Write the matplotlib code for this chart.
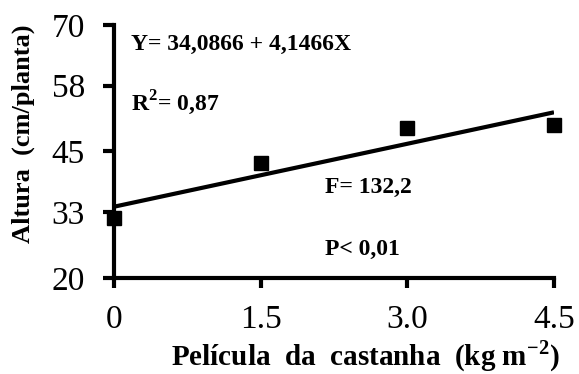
import matplotlib
matplotlib.use("Agg")
import matplotlib.pyplot as plt
import numpy as np

plt.rcParams['font.family'] = ['Liberation Serif', 'DejaVu Serif']
plt.rcParams['mathtext.fontset'] = 'custom'
plt.rcParams['mathtext.rm'] = 'Liberation Serif'
plt.rcParams['mathtext.bf'] = 'Liberation Serif:bold'

# doses of chestnut skin and measured plant height
doses = [0, 1.5, 3.0, 4.5]
altura = [31.9, 42.7, 49.6, 50.2]
intercept = 34.0866
slope = 4.1466
xticks = [0, 1.5, 3.0, 4.5]
xticklabels = ['0', '1.5', '3.0', '4.5']
yticks = [20, 33, 45, 58, 70]

fig = plt.figure(figsize=(5.79, 3.74), dpi=100)
ax = fig.add_axes([114 / 579, 96 / 374, 440 / 579, 253 / 374])

xfit = np.array([doses[0], doses[-1]])
ax.plot(xfit, intercept + slope * xfit, color='black', lw=3, solid_capstyle='butt', zorder=2)
ax.plot(doses, altura, 's', color='black', ms=10, clip_on=False, zorder=3)

ax.set_xlim(0, 4.5)
ax.set_ylim(20, 70)
ax.set_xticks(xticks)
ax.set_xticklabels(xticklabels)
ax.set_yticks(yticks)

for side in ['top', 'right']:
    ax.spines[side].set_visible(False)
for side in ['left', 'bottom']:
    ax.spines[side].set_linewidth(3)
    ax.spines[side].set_capstyle('projecting')

ax.tick_params(axis='y', direction='out', length=8, width=3, labelsize=24, pad=13)
ax.tick_params(axis='x', direction='out', length=7, width=3, labelsize=24, pad=12)

fig.text(23 / 579, 1 - 134 / 374, 'Altura  (cm/planta)', rotation=90,
         ha='center', va='center', fontsize=19, fontweight='bold')
fig.text(365 / 579, 1 - 356 / 374, r'Película  da  castanha  (kg m$^{\mathbf{-2}}$)',
         ha='center', va='center', fontsize=21, fontweight='bold')

ax.text(0.17, 66.2, 'Y= 34,0866 + 4,1466X', ha='left', va='center',
        fontsize=17, fontweight='bold')
ax.text(0.17, 54.6, r'R$^{\mathbf{2}}$= 0,87', ha='left', va='center',
        fontsize=17, fontweight='bold')
ax.text(2.16, 37.8, 'F= 132,2', ha='left', va='center', fontsize=17, fontweight='bold')
ax.text(2.16, 25.7, 'P< 0,01', ha='left', va='center', fontsize=17, fontweight='bold')

fig.savefig('out.png', dpi=100)
